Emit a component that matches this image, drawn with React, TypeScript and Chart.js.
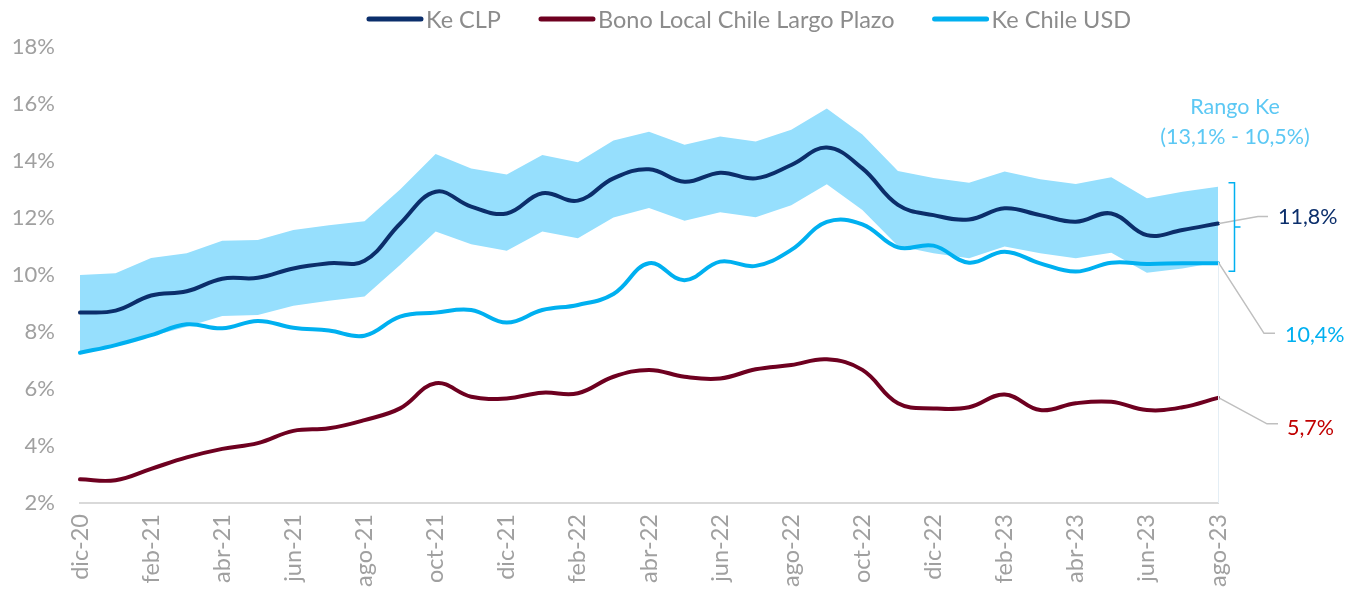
import React, { useEffect, useRef } from 'react';
import { Chart, registerables } from 'chart.js';

Chart.register(...registerables);

// ---------- data ----------
const months = [
  'dic-20', 'ene-21', 'feb-21', 'mar-21', 'abr-21', 'may-21', 'jun-21', 'jul-21', 'ago-21', 'sep-21', 'oct-21', 'nov-21',
  'dic-21', 'ene-22', 'feb-22', 'mar-22', 'abr-22', 'may-22', 'jun-22', 'jul-22', 'ago-22', 'sep-22', 'oct-22', 'nov-22',
  'dic-22', 'ene-23', 'feb-23', 'mar-23', 'abr-23', 'may-23', 'jun-23', 'jul-23', 'ago-23',
];

const keCLP = [
  8.68, 8.75, 9.28, 9.43, 9.87, 9.9, 10.23, 10.41, 10.5, 11.8, 12.92, 12.4,
  12.16, 12.87, 12.61, 13.39, 13.71, 13.27, 13.59, 13.39, 13.86, 14.47, 13.74, 12.46,
  12.1, 11.95, 12.34, 12.1, 11.87, 12.16, 11.4, 11.58, 11.81,
];

const bonoLocal = [
  2.83, 2.8, 3.2, 3.6, 3.9, 4.1, 4.53, 4.62, 4.91, 5.32, 6.2, 5.73,
  5.67, 5.87, 5.85, 6.43, 6.67, 6.43, 6.37, 6.69, 6.84, 7.04, 6.67, 5.5,
  5.32, 5.36, 5.81, 5.26, 5.5, 5.55, 5.26, 5.36, 5.69,
];

const keUSD = [
  7.27, 7.54, 7.89, 8.27, 8.13, 8.39, 8.15, 8.05, 7.87, 8.54, 8.68, 8.77,
  8.33, 8.77, 8.95, 9.33, 10.41, 9.82, 10.47, 10.32, 10.88, 11.86, 11.78, 10.97,
  11.03, 10.43, 10.82, 10.41, 10.12, 10.43, 10.39, 10.41, 10.41,
];

const rangoUpper = [
  10.0, 10.06, 10.6, 10.76, 11.2, 11.23, 11.58, 11.75, 11.89, 13.0, 14.25, 13.74,
  13.53, 14.21, 13.96, 14.72, 15.03, 14.57, 14.86, 14.68, 15.1, 15.84, 14.93, 13.65,
  13.4, 13.24, 13.63, 13.36, 13.19, 13.43, 12.69, 12.92, 13.1,
];

const rangoLower = [
  7.27, 7.48, 7.85, 8.18, 8.56, 8.6, 8.92, 9.1, 9.25, 10.35, 11.53, 11.08,
  10.85, 11.53, 11.29, 12.02, 12.35, 11.9, 12.2, 12.03, 12.45, 13.18, 12.28, 11.02,
  10.76, 10.59, 11.0, 10.76, 10.59, 10.78, 10.08, 10.23, 10.45,
];

const yTicks = [2, 4, 6, 8, 10, 12, 14, 16, 18];
const seriesLabels = ['Ke CLP', 'Bono Local Chile Largo Plazo', 'Ke Chile USD'];
const endLabels = ['11,8%', '5,7%', '10,4%'];
const rangoTitle = ['Rango Ke', '(13,1% - 10,5%)'];

// ---------- styles ----------
const FONT = 'Lato, "Open Sans", sans-serif';
const C_CLP = '#0B2E6B';
const C_BONO = '#6E0020';
const C_USD = '#00B0F0';
const C_BAND = '#96DFFD';
const C_TICK = '#A0A0A0';
const C_LEGEND = '#8C8C8C';

const legendPlugin = {
  id: 'customLegend',
  afterDraw(chart: any) {
    const ctx = chart.ctx;
    ctx.save();
    ctx.font = `23.5px ${FONT}`;
    ctx.textBaseline = 'middle';
    const sample = 56;
    const gapText = 3;
    const gapItem = 38;
    const items = chart.data.datasets.filter((d: any) => d.showInLegend);
    const widths = items.map((d: any) => sample + gapText + ctx.measureText(d.label).width);
    const total = widths.reduce((a: number, b: number) => a + b, 0) + gapItem * (items.length - 1);
    let x = 749 - total / 2;
    const y = 19;
    items.forEach((d: any, i: number) => {
      ctx.strokeStyle = d.borderColor;
      ctx.lineWidth = 5;
      ctx.lineCap = 'round';
      ctx.beginPath();
      ctx.moveTo(x + 2, y);
      ctx.lineTo(x + sample - 2, y);
      ctx.stroke();
      ctx.fillStyle = C_LEGEND;
      ctx.textAlign = 'left';
      ctx.fillText(d.label, x + sample + gapText, y + 1);
      x += widths[i] + gapItem;
    });
    ctx.restore();
  },
};

const annotationPlugin = {
  id: 'endAnnotations',
  afterDatasetsDraw(chart: any) {
    const ctx = chart.ctx;
    const xs = chart.scales.x;
    const ys = chart.scales.y;
    const last = months.length - 1;
    const xe = xs.getPixelForValue(last);
    const yClp = ys.getPixelForValue(keCLP[last]);
    const yUsd = ys.getPixelForValue(keUSD[last]);
    const yBono = ys.getPixelForValue(bonoLocal[last]);
    const yUp = ys.getPixelForValue(rangoUpper[last]);
    const yLo = ys.getPixelForValue(rangoLower[last]);
    ctx.save();

    // faint vertical line at end
    ctx.strokeStyle = '#E4EEF5';
    ctx.lineWidth = 1;
    ctx.beginPath();
    ctx.moveTo(xe + 0.5, yLo);
    ctx.lineTo(xe + 0.5, chart.chartArea.bottom);
    ctx.stroke();

    // leader lines
    ctx.strokeStyle = '#BFBFBF';
    ctx.lineWidth = 1.5;
    const leader = (y0: number, dx: number, dy: number, len: number) => {
      ctx.beginPath();
      ctx.moveTo(xe + 1, y0);
      ctx.lineTo(xe + dx, y0 + dy);
      ctx.lineTo(xe + dx + len, y0 + dy);
      ctx.stroke();
    };
    leader(yClp, 40, -7, 10);
    leader(yUsd, 46, 70, 11);
    leader(yBono, 49, 26, 11);

    ctx.font = `21.5px ${FONT}`;
    ctx.textBaseline = 'middle';
    ctx.textAlign = 'left';
    ctx.fillStyle = C_CLP;
    ctx.fillText(endLabels[0], xe + 60, yClp - 6);
    ctx.fillStyle = '#C00000';
    ctx.fillText(endLabels[1], xe + 69, yBono + 30);
    ctx.fillStyle = C_USD;
    ctx.fillText(endLabels[2], xe + 67, yUsd + 72);

    // bracket
    const xb = xe + 16.5;
    const top = yUp - 4;
    const bot = yLo + 9;
    const mid = (top + bot) / 2;
    ctx.strokeStyle = C_USD;
    ctx.lineWidth = 1.5;
    ctx.beginPath();
    ctx.moveTo(xb - 6, top);
    ctx.lineTo(xb, top);
    ctx.lineTo(xb, bot);
    ctx.lineTo(xb - 6, bot);
    ctx.moveTo(xb, mid);
    ctx.lineTo(xb + 6, mid);
    ctx.stroke();

    // rango title
    ctx.fillStyle = '#5CC8F4';
    ctx.textAlign = 'center';
    ctx.font = `21.5px ${FONT}`;
    ctx.fillText(rangoTitle[0], xe + 17, 107);
    ctx.fillText(rangoTitle[1], xe + 17, 137);
    ctx.restore();
  },
};

export default function App() {
  const ref = useRef<HTMLCanvasElement | null>(null);

  useEffect(() => {
    if (!ref.current) return;
    const lineBase = {
      borderWidth: 4,
      pointRadius: 0,
      pointHoverRadius: 0,
      tension: 0.4,
      fill: false,
      borderJoinStyle: 'round' as const,
      borderCapStyle: 'round' as const,
    };
    const chart = new Chart(ref.current, {
      type: 'line',
      data: {
        labels: months,
        datasets: [
          { ...lineBase, label: seriesLabels[0], data: keCLP, borderColor: C_CLP, order: 0, showInLegend: true } as any,
          { ...lineBase, label: seriesLabels[1], data: bonoLocal, borderColor: C_BONO, order: 1, showInLegend: true } as any,
          { ...lineBase, label: seriesLabels[2], data: keUSD, borderColor: C_USD, order: 2, showInLegend: true } as any,
          {
            label: 'Rango Ke inferior',
            data: rangoLower,
            borderWidth: 0,
            borderColor: 'rgba(0,0,0,0)',
            pointRadius: 0,
            tension: 0,
            fill: false,
            order: 5,
          } as any,
          {
            label: 'Rango Ke superior',
            data: rangoUpper,
            borderWidth: 0,
            borderColor: 'rgba(0,0,0,0)',
            backgroundColor: C_BAND,
            pointRadius: 0,
            tension: 0,
            fill: { target: 3 },
            order: 6,
          } as any,
        ],
      },
      options: {
        responsive: false,
        animation: false,
        devicePixelRatio: 1,
        layout: { padding: { left: 0, right: 140, top: 47, bottom: 0 } },
        plugins: {
          legend: { display: false },
          tooltip: { enabled: false },
        },
        scales: {
          x: {
            type: 'category',
            offset: false,
            grid: { display: false, drawTicks: false },
            border: { display: true, color: '#D9D9D9', width: 2 },
            ticks: {
              autoSkip: false,
              maxRotation: 90,
              minRotation: 90,
              padding: 11,
              color: C_TICK,
              font: { family: FONT, size: 23.5 },
              callback: (_v: any, i: number) => (i % 2 === 0 ? months[i] : ''),
            },
            afterFit: (s: any) => {
              s.height = 91;
            },
          },
          y: {
            min: 2,
            max: 18,
            grid: { display: false, drawTicks: false },
            border: { display: false },
            ticks: {
              padding: 25,
              color: C_TICK,
              font: { family: FONT, size: 22 },
              callback: (v: any) => `${v}%`,
            },
            afterBuildTicks: (s: any) => {
              s.ticks = yTicks.map((v) => ({ value: v }));
            },
            afterFit: (s: any) => {
              s.width = 80;
            },
          },
        },
      },
      plugins: [legendPlugin, annotationPlugin],
    });
    return () => chart.destroy();
  }, []);

  return (
    <div style={{ position: 'absolute', left: 0, top: 0, width: 1358, height: 594, background: '#fff' }}>
      <canvas ref={ref} width={1358} height={594} style={{ display: 'block' }} />
    </div>
  );
}
